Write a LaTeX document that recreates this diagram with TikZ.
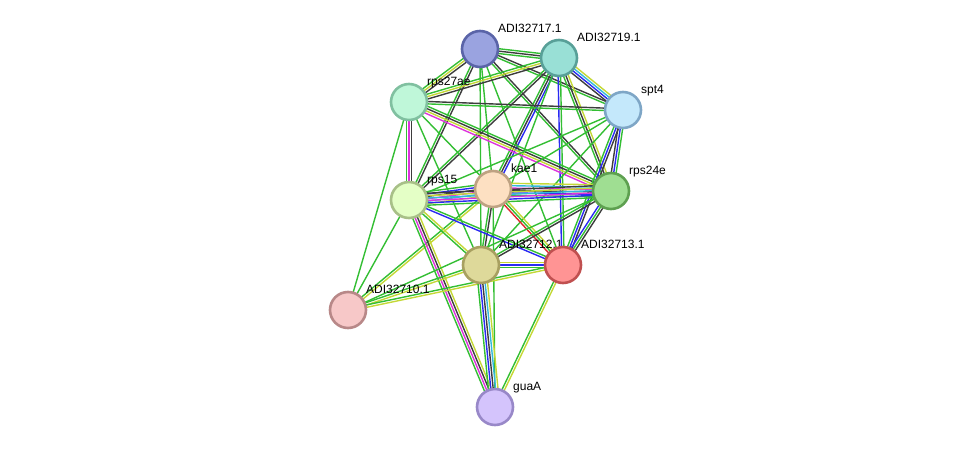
\documentclass[tikz,border=0pt]{standalone}
\usepackage{fontspec}
\setmainfont{Liberation Sans}
\usetikzlibrary{calc}
\pgfdeclarelayer{bg}
\pgfsetlayers{bg,main}
\definecolor{eg}{HTML}{33BE33}
\definecolor{ek}{HTML}{3D3D3D}
\definecolor{ey}{HTML}{C4D836}
\definecolor{eb}{HTML}{2A2AF2}
\definecolor{em}{HTML}{DD33DD}
\definecolor{ec}{HTML}{33B8DA}
\definecolor{er}{HTML}{E02828}
\tikzset{
  prot/.style={circle, minimum size=36pt, inner sep=0pt, line width=2.6pt},
  plabel/.style={anchor=base west, font=\fontsize{12pt}{14pt}\selectfont, text=black, inner sep=0pt},
  eline/.style={line width=1.4pt}
}
\newcommand\sedge[3]{%
  \foreach \c [count=\i] in {#3} {\global\let\nn\i}%
  \foreach \c [count=\i] in {#3} {%
    \pgfmathsetmacro\off{(\i-(\nn+1)/2)*2.4}%
    \draw[eline, color=\c] ($(#1)!\off pt!90:(#2)$) -- ($(#2)!\off pt!-90:(#1)$);
  }%
}
\newcommand\prot[6]{% name, x, y, fill, border, label
  \definecolor{#1fill}{HTML}{#4}%
  \definecolor{#1draw}{HTML}{#5}%
  \node[prot, fill=#1fill, draw=#1draw] (#1) at (#2pt,-#3pt) {};
  \node[plabel] (#1-l) at (#2pt+18pt,-#3pt+17pt) {#6};
}
\begin{document}
\begin{tikzpicture}
\useasboundingbox (0,0) rectangle (975pt,-453pt);
\prot{A}{480}{49}{9AA3E0}{5A64A8}{ADI32717.1}
\prot{B}{559}{58}{99E0D6}{58A098}{ADI32719.1}
\prot{R27}{409}{102}{BFF7D9}{80C0A0}{rps27ae}
\prot{S}{623}{110}{C4E8FB}{7EA6C6}{spt4}
\prot{K}{493}{189}{FDE0C2}{BEA282}{kae1}
\prot{R15}{409}{200}{E4FFC6}{A8C088}{rps15}
\prot{R24}{611}{191}{9FDE92}{5EA050}{rps24e}
\prot{X12}{481}{265}{DED99A}{A8A060}{ADI32712.1}
\prot{X13}{563}{265}{FF9494}{C05050}{ADI32713.1}
\prot{X10}{348}{310}{F7C8C8}{B88888}{ADI32710.1}
\prot{G}{495}{407}{D4C4FC}{9888C8}{guaA}
\begin{pgfonlayer}{bg}
\sedge{A}{B}{eg,ek,eg}
\sedge{A}{R27}{eg,ey,ek}
\sedge{A}{S}{eg,ek}
\sedge{A}{K}{eg}
\sedge{A}{R15}{eg,ek}
\sedge{A}{R24}{eg,ek}
\sedge{A}{X12}{eg}
\sedge{A}{X13}{eg}
\sedge{B}{R27}{eg,ey,ek}
\sedge{B}{S}{ek,eb,ec,ey}
\sedge{B}{K}{eg,ek,eb}
\sedge{B}{R15}{eg,ek}
\sedge{B}{R24}{eg,ek,ey}
\sedge{B}{X13}{eb,eg}
\sedge{B}{X12}{eg}
\sedge{R27}{S}{eg,ek}
\sedge{R27}{K}{eg}
\sedge{R27}{R15}{eg,em,ek}
\sedge{R27}{R24}{em,ey,ek,eg}
\sedge{R27}{X12}{eg}
\sedge{R27}{X10}{eg}
\sedge{S}{K}{eg}
\sedge{S}{R15}{eg}
\sedge{S}{R24}{ek,eb,eg}
\sedge{S}{X12}{eg}
\sedge{S}{X13}{eg,eb,ek}
\sedge{K}{R15}{eg,eb,ek,em,ec,ey}
\sedge{K}{R24}{eg,eb,ek,em,ec,ey}
\sedge{K}{X12}{eg,ek}
\sedge{K}{X13}{er,eg,ey}
\sedge{K}{G}{eg}
\sedge{K}{X10}{eg,ey}
\sedge{R15}{R24}{eg,eb,em,ec,ey,ek}
\sedge{R15}{X12}{eg,ey}
\sedge{R15}{X13}{eb,eg}
\sedge{R15}{X10}{eg}
\sedge{R15}{G}{eg,em,ek,ey}
\sedge{R24}{X12}{eg,ek}
\sedge{R24}{X13}{eb,eg,ek}
\sedge{R24}{X10}{eg}
\sedge{X12}{X13}{eg,eb,ey}
\sedge{X12}{X10}{eg,ey}
\sedge{X13}{X10}{eg,ey}
\sedge{X12}{G}{eg,eb,ek,ec,ey}
\sedge{X13}{G}{eg,ey}
\end{pgfonlayer}
\end{tikzpicture}
\end{document}
